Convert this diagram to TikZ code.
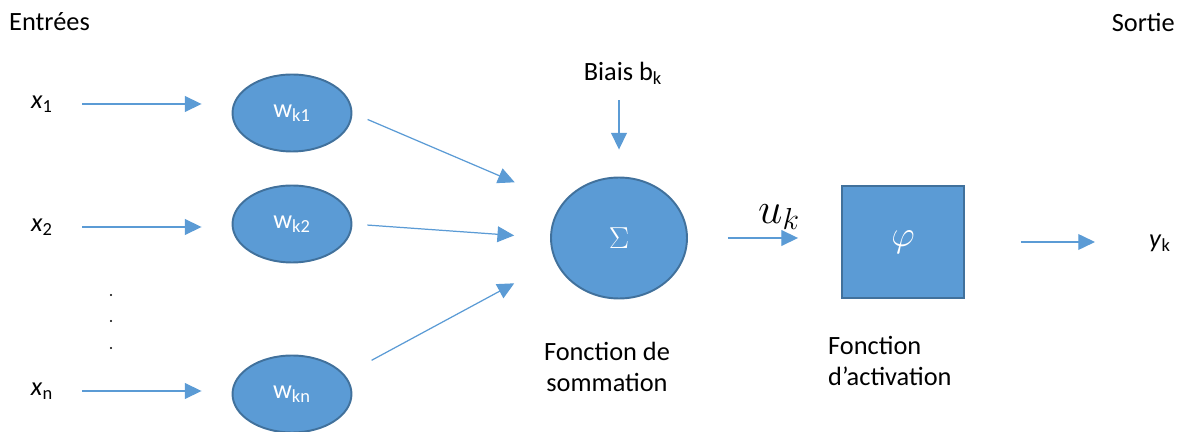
\documentclass[tikz,border=0pt]{standalone}
\usepackage{amsmath}
\usepackage{fontspec}
\setmainfont{Carlito}
\usetikzlibrary{shapes.geometric, arrows.meta}
\definecolor{neurfill}{RGB}{91, 155, 213}
\definecolor{neuredge}{RGB}{65, 113, 156}

\begin{document}
\begin{tikzpicture}[x=0.02cm, y=-0.02cm, every node/.style={font=\fontsize{15}{18}\selectfont},
    bloc/.style={draw=neuredge, line width=1.1pt, fill=neurfill, text=white},
    poids/.style={bloc, ellipse, minimum width=2.38cm, minimum height=1.54cm},
    fleche/.style={neurfill, line width=0.7pt, -{Triangle[length=9.5pt, width=9pt]}}]
  \useasboundingbox (0,0) rectangle (1181,432);
  \node[anchor=west] (entrees) at (3,22) {Entrées};
  \node[anchor=east] (sortie) at (1181,22) {Sortie};
  % entrees et poids
  \foreach \n/\ya/\yw in {1/101/113, 2/224/224, n/388/394} {
    \node (x\n) at (42,\ya+3) {\textit{x}\textsubscript{\n}};
    \node[poids] (w\n) at (292,\yw) {w\textsubscript{k\n}};
    \draw[fleche, shorten <=0.46cm, shorten >=0.6cm] (x\n.east) -- (x\n.east -| w\n.west);
  }
  \foreach \y in {295,321,348} \fill (111,\y) circle (1.1);
  % sommation
  \node[bloc, ellipse, minimum width=2.72cm, minimum height=2.42cm, font=\fontsize{19}{20}\selectfont] (somme) at (619,238) {$\Sigma$};
  \draw[fleche, shorten <=0.33cm, shorten >=1.04cm] (w1.east) -- (somme.148);
  \draw[fleche, shorten <=0.3cm, shorten >=0.72cm] (w2.east) -- (somme.west);
  \draw[fleche, shorten <=0.61cm, shorten >=0.93cm] (wn.20) -- (somme.200);
  \node (biais) at (623,73) {Biais b\textsubscript{k}};
  \draw[fleche, shorten <=0.2cm, shorten >=0.54cm] (somme.north |- biais.south) -- (somme.north);
  \node[align=center] (lsomme) at (607,367) {Fonction de\\sommation};
  % activation
  \node[bloc, minimum width=2.44cm, minimum height=2.24cm, font=\fontsize{20}{22}\selectfont] (activ) at (903,242) {$\varphi$};
  \draw[fleche, shorten <=0.8cm, shorten >=0.86cm] (somme.east) -- (somme.east -| activ.west);
  \node[font=\fontsize{23}{24}\selectfont] (uk) at (779,217) {$u_k$};
  \node[anchor=west, align=left] (lactiv) at (822,361) {Fonction\\d’activation};
  \node (yk) at (1160,243) {\textit{y}\textsubscript{k}};
  \draw[fleche, shorten <=1.12cm, shorten >=0.96cm] (activ.east) -- (activ.east -| yk.west);
\end{tikzpicture}
\end{document}
